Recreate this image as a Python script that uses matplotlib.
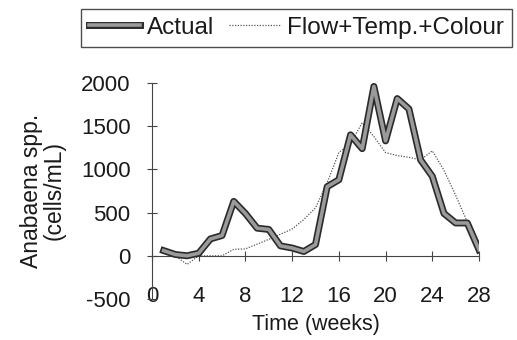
import matplotlib
matplotlib.use('Agg')
from matplotlib import pyplot as plt
import matplotlib.patheffects as pe

# weekly data
weeks = list(range(1, 29))
actual = [60, 15, 0, 30, 195, 235, 630, 490, 320, 305, 115, 90, 50, 130,
          800, 880, 1400, 1240, 1960, 1330, 1820, 1700, 1110, 920, 490, 380, 380, 70]
model = [50, 0, -100, 0, 0, 0, 75, 80, 135, 190, 250, 310, 420, 555,
         845, 1195, 1300, 1540, 1380, 1195, 1160, 1140, 1110, 1215, 990, 700, 390, 80]

x_ticks = [0, 4, 8, 12, 16, 20, 24, 28]
y_ticks = [-500, 0, 500, 1000, 1500, 2000]

plt.rcParams['font.family'] = ['Liberation Sans', 'DejaVu Sans']
plt.rcParams['axes.unicode_minus'] = False
txt = '#1a1a1a'

fig = plt.figure(figsize=(5.17, 3.40), dpi=100)
ax = fig.add_axes([152/517, 41/340, 327/517, 216/340])

ax.plot(weeks, model, color='#555555', lw=0.9, ls=(0, (1, 1.2)),
        label='Flow+Temp.+Colour', zorder=2)
ax.plot(weeks, actual, color='#9a9a9a', lw=2.6,
        path_effects=[pe.Stroke(linewidth=5, foreground='#2a2a2a'), pe.Normal()],
        label='Actual', zorder=3)

ax.set_xlim(0, 28)
ax.set_ylim(-500, 2000)

for s in ['top', 'right', 'bottom']:
    ax.spines[s].set_visible(False)
ax.spines['left'].set_linestyle((0, (1, 1)))
ax.spines['left'].set_color('#444444')

ax.set_yticks(y_ticks)
ax.tick_params(axis='y', direction='inout', length=7, width=0.8, color='#444444',
               labelsize=16, labelcolor=txt, pad=12)
ax.set_xticks(x_ticks)
ax.tick_params(axis='x', length=0, labelsize=16, labelcolor=txt, pad=-9)

# x axis line crosses at zero
sec = ax.secondary_xaxis(0, transform=ax.transData)
sec.set_xticks(x_ticks)
sec.tick_params(direction='inout', length=7, width=0.8, color='#444444', labelbottom=False)
sec.spines['bottom'].set_linestyle((0, (1, 1)))
sec.spines['bottom'].set_color('#444444')

ax.set_xlabel('Time (weeks)', fontsize=15.5, color=txt, labelpad=5)
ax.set_ylabel('Anabaena spp.\n(cells/mL)', fontsize=16.5, color=txt, labelpad=11,
              linespacing=1.0)

handles, labels = ax.get_legend_handles_labels()
leg = fig.legend(handles[::-1], labels[::-1], ncol=2, loc='upper left',
                 bbox_to_anchor=(81/517, 1 - 9/340), fontsize=17.5, frameon=True,
                 fancybox=False, edgecolor='#222222', handlelength=2.1,
                 handletextpad=0.3, columnspacing=0.6, borderpad=0.32,
                 borderaxespad=0)
leg.get_frame().set_linewidth(1.0)
for t in leg.get_texts():
    t.set_color(txt)

fig.savefig('out.png', dpi=100)
